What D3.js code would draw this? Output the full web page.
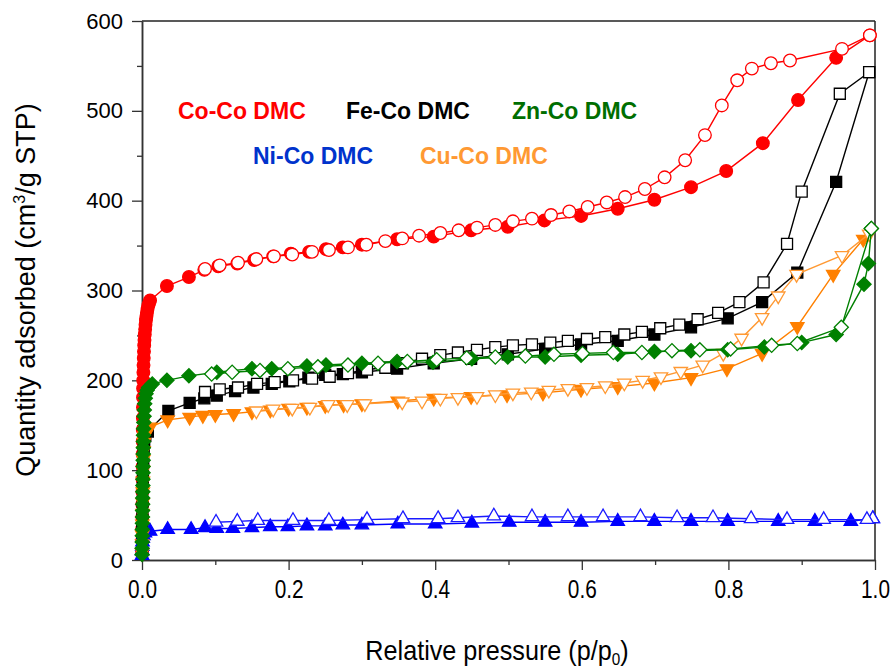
<!DOCTYPE html>
<html>
<head>
<meta charset="utf-8">
<script src="https://cdn.jsdelivr.net/npm/d3@7/dist/d3.min.js"></script>
<style>
  html, body { margin: 0; padding: 0; background: #fff; }
  svg { display: block; }
  .ylab { font-family: "Liberation Sans", Arial, sans-serif; font-size: 22px; }
  .xlab { font-family: "Liberation Sans", Arial, sans-serif; font-size: 26px; }
</style>
</head>
<body>
<svg id="chart" width="895" height="671"></svg>
<script>
// [relative pressure, quantity adsorbed]
const cocoAds = [[0.0001,10],[0.0002,22],[0.0003,35],[0.0004,48],[0.0005,62],[0.0006,76],[0.0007,90],[0.0008,104],[0.0009,118],[0.001,132],[0.0011,145],[0.0012,158],[0.0013,170],[0.0014,181],[0.0015,191],[0.0017,200],[0.0019,209],[0.0021,217],[0.0024,225],[0.0027,232],[0.003,239],[0.0034,245],[0.0038,251],[0.0043,257],[0.0048,262],[0.0054,267],[0.006,271],[0.0067,275],[0.0075,279],[0.0085,283],[0.0097,286],[0.011,289],
  [0.034,305],[0.064,315],[0.085,323],[0.104,327],[0.130,330],[0.153,334],[0.179,338],[0.203,341],[0.228,343],[0.251,346],[0.274,348],[0.300,351],[0.348,357],[0.398,360],[0.449,367],[0.499,371],[0.549,378],[0.599,383],[0.649,391],[0.699,401],[0.749,415],[0.797,433],[0.847,464],[0.895,512],[0.947,559],[0.993,584]];
const cocoDes = [[0.993,584],[0.955,569],[0.884,556],[0.858,553],[0.832,547],[0.812,534],[0.791,506],[0.768,473],[0.741,445],[0.713,426],[0.686,413],[0.659,404],[0.634,398],[0.608,393],[0.583,388],[0.558,384],[0.532,380],[0.506,377],[0.482,373],[0.457,370],[0.432,367],[0.407,364],[0.378,361],[0.355,358],[0.332,355],[0.306,351],[0.281,348],[0.255,345],[0.232,343],[0.205,340],[0.180,338],[0.156,335],[0.131,331],[0.106,328],[0.086,324]];

const fecoAds = [[0.0001,8],[0.0002,20],[0.0004,35],[0.0006,50],[0.0008,65],[0.001,80],[0.0013,95],[0.0017,110],[0.0023,122],[0.003,131],[0.0045,138],[0.008,143],
  [0.036,166],[0.065,175],[0.085,180],[0.102,183],[0.127,188],[0.152,192],[0.177,196],[0.201,199],[0.227,203],[0.250,206],[0.274,207],[0.300,209],[0.348,213],[0.398,219],[0.449,224],[0.499,229],[0.550,235],[0.599,240],[0.649,244],[0.699,251],[0.749,259],[0.799,269],[0.846,287],[0.894,320],[0.947,421],[0.992,543]];
const fecoDes = [[0.992,543],[0.952,519],[0.900,410],[0.880,352],[0.848,309],[0.815,287],[0.786,275],[0.758,268],[0.733,262],[0.707,258],[0.682,254],[0.658,251],[0.632,248],[0.607,246],[0.581,244],[0.557,242],[0.532,240],[0.506,239],[0.482,237],[0.457,234],[0.431,231],[0.407,228],[0.382,224],[0.356,219],[0.332,214],[0.307,212],[0.281,208],[0.256,204],[0.232,202],[0.206,200],[0.181,198],[0.157,196],[0.131,192],[0.106,190],[0.086,187]];

const nicoAds = [[0.0001,5],[0.0002,10],[0.0004,15],[0.0007,20],[0.001,24],[0.002,27],[0.004,30],[0.011,32],
  [0.035,34],[0.067,34],[0.086,36],[0.102,35],[0.124,35],[0.150,36],[0.175,37],[0.199,37],[0.225,38],[0.250,38],[0.274,39],[0.300,39],[0.349,40],[0.400,40],[0.450,41],[0.501,42],[0.550,42],[0.599,42],[0.649,43],[0.699,43],[0.749,43],[0.799,43],[0.868,43],[0.918,43],[0.967,43],[0.997,46]];
const nicoDes = [[0.997,46],[0.989,45],[0.930,45],[0.880,45],[0.831,46],[0.779,47],[0.730,47],[0.680,48],[0.629,48],[0.581,48],[0.532,48],[0.480,49],[0.431,47],[0.404,46],[0.356,46],[0.307,45],[0.255,44],[0.206,44],[0.158,44],[0.130,43],[0.101,42]];

const cucoAds = [[0.0001,8],[0.0002,18],[0.0003,28],[0.0005,40],[0.0007,52],[0.0009,64],[0.0011,76],[0.0013,88],[0.0015,100],[0.0018,112],[0.0022,122],[0.0027,131],[0.0035,138],[0.005,143],[0.011,148],
  [0.035,156],[0.065,159],[0.083,161],[0.100,162],[0.125,163],[0.150,165],[0.175,167],[0.200,169],[0.225,170],[0.250,172],[0.275,173],[0.300,174],[0.349,177],[0.398,180],[0.449,182],[0.498,184],[0.547,186],[0.599,190],[0.649,193],[0.699,197],[0.749,203],[0.798,213],[0.846,230],[0.894,260],[0.943,318],[0.984,357]];
const cucoDes = [[0.992,363],[0.955,339],[0.893,318],[0.868,294],[0.846,270],[0.818,247],[0.793,230],[0.765,217],[0.735,210],[0.708,204],[0.683,200],[0.658,197],[0.632,194],[0.607,192],[0.581,191],[0.555,189],[0.531,187],[0.506,186],[0.482,184],[0.457,182],[0.431,181],[0.407,180],[0.382,177],[0.355,176],[0.304,174],[0.280,173],[0.254,173],[0.229,170],[0.205,169],[0.179,168],[0.156,166]];

const zncoAds = [[0.0001,6],[0.0002,13],[0.0003,20],[0.0004,27],[0.0005,34],[0.0006,41],[0.0007,48],[0.0008,55],[0.0009,62],[0.001,69],[0.0011,76],[0.0012,83],[0.0013,90],[0.0014,97],[0.0015,104],[0.0016,111],[0.0017,118],[0.0018,125],[0.0019,132],[0.002,139],[0.0022,146],[0.0025,153],[0.0028,160],[0.0032,167],[0.0037,174],[0.0045,180],[0.0055,185],[0.007,189],[0.009,192],[0.014,196],
  [0.034,200],[0.064,205],[0.102,209],[0.150,213],[0.177,213],[0.225,216],[0.251,217],[0.300,219],[0.348,221],[0.397,220],[0.450,224],[0.499,226],[0.550,226],[0.599,228],[0.649,229],[0.699,232],[0.749,233],[0.799,234],[0.849,237],[0.900,242],[0.947,251],[0.985,307],[0.991,330],[0.995,369]];
const zncoDes = [[0.995,369],[0.954,259],[0.894,241],[0.859,239],[0.803,235],[0.761,234],[0.723,233],[0.682,231],[0.643,231],[0.601,230],[0.562,229],[0.523,227],[0.482,226],[0.443,225],[0.402,223],[0.362,221],[0.322,219],[0.281,217],[0.240,215],[0.199,213],[0.161,211],[0.123,209],[0.095,207]];

const xMajor = [0, 0.2, 0.4, 0.6, 0.8, 1.0];
const xMinor = [0.1, 0.3, 0.5, 0.7, 0.9];
const yMajor = [0, 100, 200, 300, 400, 500, 600];
const yMinor = [50, 150, 250, 350, 450, 550];

const series = [
  { name: 'Co-Co DMC', ads: cocoAds, des: cocoDes, color: '#ff0000', openColor: '#ff0000', shape: 'circle', textColor: '#ff0000', lx: 178, ly: 119 },
  { name: 'Fe-Co DMC', ads: fecoAds, des: fecoDes, color: '#000000', openColor: '#000000', shape: 'square', textColor: '#000000', lx: 346, ly: 119 },
  { name: 'Ni-Co DMC', ads: nicoAds, des: nicoDes, color: '#0000ff', openColor: '#1a1aff', shape: 'up', textColor: '#0033cc', lx: 253, ly: 164 },
  { name: 'Cu-Co DMC', ads: cucoAds, des: cucoDes, color: '#ff8000', openColor: '#ff9933', shape: 'down', textColor: '#ff9933', lx: 420, ly: 164 },
  { name: 'Zn-Co DMC', ads: zncoAds, des: zncoDes, color: '#008000', openColor: '#008000', shape: 'diamond', textColor: '#006e00', lx: 512, ly: 119 }
];

const svg = d3.select('#chart');
svg.append('rect').attr('width', 895).attr('height', 671).attr('fill', '#fff');

const x = d3.scaleLinear().domain([0, 1]).range([142, 875]);
const y = d3.scaleLinear().domain([0, 600]).range([560, 21]);

// frame (top and right)
svg.append('line').attr('x1', 142).attr('x2', 875).attr('y1', 21).attr('y2', 21)
  .attr('stroke', '#222').attr('stroke-width', 1.5);
svg.append('line').attr('x1', 875).attr('x2', 875).attr('y1', 21).attr('y2', 560)
  .attr('stroke', '#222').attr('stroke-width', 1.5);

// axes
const gx = svg.append('g').attr('transform', 'translate(0,560)')
  .call(d3.axisBottom(x).tickValues(xMajor).tickSize(10).tickSizeOuter(0).tickPadding(10).tickFormat(d3.format('.1f')));
svg.append('g').attr('transform', 'translate(0,560)')
  .call(d3.axisBottom(x).tickValues(xMinor).tickSize(5).tickSizeOuter(0).tickFormat(''));
const gy = svg.append('g').attr('transform', 'translate(142,0)')
  .call(d3.axisLeft(y).tickValues(yMajor).tickSize(10).tickSizeOuter(0).tickPadding(9));
svg.append('g').attr('transform', 'translate(142,0)')
  .call(d3.axisLeft(y).tickValues(yMinor).tickSize(5).tickSizeOuter(0).tickFormat(''));

svg.selectAll('.domain').attr('stroke', '#333').attr('stroke-width', 1.5);
svg.selectAll('.tick line').attr('stroke', '#333').attr('stroke-width', 1.3);
// narrow look for the x labels
gx.selectAll('text').attr('class', 'xlab').attr('fill', '#000').attr('transform', 'scale(0.8,1)');
gy.selectAll('text').attr('class', 'ylab').attr('fill', '#000');

// axis titles
svg.append('text')
  .attr('transform', 'translate(35,290) rotate(-90)')
  .attr('text-anchor', 'middle')
  .style('font-family', '"Liberation Sans", Arial, sans-serif')
  .style('font-size', '27px')
  .html('Quantity adsorbed (cm<tspan dy="-10" font-size="16px">3</tspan><tspan dy="10">/g STP)</tspan>');

svg.append('text')
  .attr('transform', 'translate(497,660) scale(0.9,1)')
  .attr('text-anchor', 'middle')
  .style('font-family', '"Liberation Sans", Arial, sans-serif')
  .style('font-size', '28px')
  .html('Relative pressure (p/p<tspan dy="5" font-size="17px">0</tspan><tspan dy="-5">)</tspan>');

// markers
const symbolFor = shape => {
  if (shape === 'circle') return d3.symbol(d3.symbolCircle, 125)();
  if (shape === 'square') return d3.symbol(d3.symbolSquare, 121)();
  if (shape === 'diamond') return d3.symbol(d3.symbolSquare, 100)();
  return d3.symbol(d3.symbolTriangle, 78)();
};
const rotFor = shape => shape === 'diamond' ? 45 : shape === 'down' ? 180 : 0;

const line = d3.line().x(d => x(d[0])).y(d => y(d[1]));

series.forEach(s => {
  const g = svg.append('g');
  [['ads', s.color, s.color], ['des', s.openColor, '#fff']].forEach(([key, stroke, fill]) => {
    const data = s[key];
    g.append('path')
      .datum(data)
      .attr('fill', 'none')
      .attr('stroke', stroke)
      .attr('stroke-width', 1.4)
      .attr('d', line);
    g.selectAll('.m-' + key)
      .data(data)
      .enter()
      .append('path')
      .attr('class', 'm-' + key)
      .attr('d', symbolFor(s.shape))
      .attr('transform', d => `translate(${x(d[0])},${y(d[1])}) rotate(${rotFor(s.shape)})`)
      .attr('fill', fill)
      .attr('stroke', stroke)
      .attr('stroke-width', 1.3);
  });
});

// labels
series.forEach(s => {
  svg.append('text')
    .attr('x', s.lx).attr('y', s.ly)
    .attr('fill', s.textColor)
    .style('font-family', '"Liberation Sans", Arial, sans-serif')
    .style('font-weight', 'bold')
    .style('font-size', '23px')
    .text(s.name);
});
</script>
</body>
</html>
